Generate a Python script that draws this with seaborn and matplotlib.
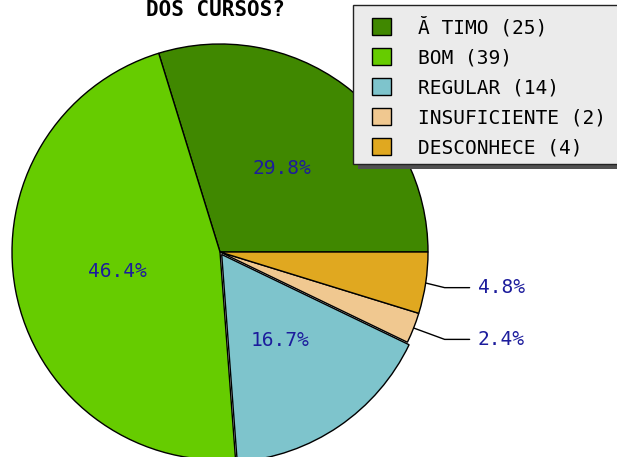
import numpy as np
import matplotlib

matplotlib.use("Agg")
import matplotlib.pyplot as plt
import seaborn as sns
from matplotlib.patches import Rectangle
from matplotlib.transforms import IdentityTransform

# data
categories = ["Ă TIMO", "BOM", "REGULAR", "INSUFICIENTE", "DESCONHECE"]
counts = [25, 39, 14, 2, 4]
colors = ["#408800", "#66cc00", "#7ec4cc", "#f0c890", "#e0a820"]
title = "DOS CURSOS?"

sns.set_theme(style="white")
plt.rcParams["font.family"] = ["DejaVu Sans Mono", "DejaVu Sans"]

W, H = 617, 457
fig = plt.figure(figsize=(W / 100, H / 100), dpi=100)
ax = fig.add_axes([0, 0, 1, 1])

cx, cy, R = 220, 205, 208
label_color = "#1c1c9c"
explode = [3 if c == "REGULAR" else 0 for c in categories]

wedges, _, autotexts = ax.pie(
    counts,
    colors=colors,
    explode=explode,
    center=(cx, cy),
    radius=R,
    startangle=0,
    counterclock=True,
    autopct=lambda p: f"{p:.1f}%" if p >= 10 else "",
    pctdistance=0.5,
    wedgeprops=dict(edgecolor="black", linewidth=1),
    textprops=dict(color=label_color, fontsize=14),
    frame=True,
)
ax.set_xlim(0, W)
ax.set_ylim(0, H)
ax.set_axis_off()

# outside labels with leader lines for the small slices
total = sum(counts)
for wedge, n in zip(wedges, counts):
    pct = 100 * n / total
    if pct >= 10:
        continue
    theta = np.deg2rad((wedge.theta1 + wedge.theta2) / 2)
    ex, ey = cx + R * np.cos(theta), cy + R * np.sin(theta)
    ty = cy + 1.15 * R * np.sin(theta)
    ax.plot([ex, cx + 1.08 * R, cx + 1.2 * R], [ey, ty, ty], color="black", lw=1)
    ax.text(cx + 1.24 * R, ty, f"{pct:.1f}%", color=label_color, fontsize=14,
            va="center", ha="left")

fig.text(215 / W, 1 - 16 / H, title, ha="center", va="baseline",
         fontsize=15, fontweight="bold", color="black")

labels = [f"{c} ({n})" for c, n in zip(categories, counts)]
leg = ax.legend(
    wedges, labels,
    loc="upper left",
    bbox_to_anchor=(372 / W, 1 - 16.5 / H),
    bbox_transform=fig.transFigure,
    borderaxespad=0,
    borderpad=0,
    fontsize=14,
    frameon=False,
    handlelength=1.0,
    handleheight=1.0,
    handletextpad=1.35,
    labelspacing=0.55,
    labelcolor="black",
)
for h in leg.legend_handles:
    h.set_edgecolor("black")
    h.set_linewidth(1)

# legend box (runs off the right edge) with its drop shadow
box_left, box_top, box_bottom = 353, 5, 164
for dx, fc, ec, z in [(5, "#505050", "none", 4.8), (0, "#ebebeb", "#222222", 4.9)]:
    ax.add_patch(Rectangle((box_left + dx, H - box_bottom - dx), W + 20 - box_left,
                           box_bottom - box_top, transform=IdentityTransform(),
                           facecolor=fc, edgecolor=ec, linewidth=1, zorder=z,
                           clip_on=False))

fig.savefig("out.png", dpi=100)
